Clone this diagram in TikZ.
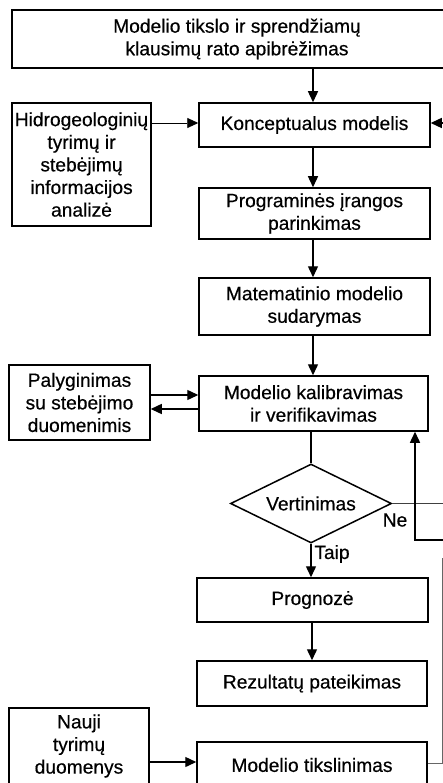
\documentclass[tikz,border=0pt]{standalone}
\usepackage{fontspec}
\setmainfont{Liberation Sans}
\newfontfamily\diafont{Liberation Sans}[FakeBold=0.45]
\usetikzlibrary{arrows.meta,shapes.geometric}
\begin{document}
\begin{tikzpicture}[x=1pt,y=-1pt,
  box/.style={draw, line width=1.5pt, align=center, inner sep=0pt,
    font=\diafont\fontsize{19.2}{22.6}\selectfont},
  lab/.style={inner sep=0pt, font=\diafont\fontsize{19.2}{22.6}\selectfont},
  conn/.style={line width=1.4pt},
  arr/.style={line width=1.4pt, -{Triangle[length=11pt,width=10pt]}},
  thin/.style={line width=0.9pt, -{Triangle[length=11pt,width=10pt]}}]
\useasboundingbox (0,0) rectangle (443,783);
\clip (0,0) rectangle (443,783);
\fill[white] (0,0) rectangle (443,783);
% boxes
\node[box, minimum width=450pt, minimum height=58pt] (top) at (237,39)
  {Modelio tikslo ir sprendžiamų\\klausimų rato apibrėžimas};
\node[box, minimum width=231pt, minimum height=44pt] (kon) at (314.5,125)
  {Konceptualus modelis};
\node[box, minimum width=139pt, minimum height=123pt] (hid) at (81.5,164.5)
  {Hidrogeologinių\\tyrimų ir\\stebėjimų\\informacijos\\analizė};
\node[box, minimum width=231pt, minimum height=51pt] (prg) at (314.5,213.5)
  {Programinės įrangos\\parinkimas};
\node[box, minimum width=231pt, minimum height=57pt] (mat) at (314.5,306.5)
  {Matematinio modelio\\sudarymas};
\node[box, minimum width=229pt, minimum height=55pt] (kal) at (313.5,403.5)
  {Modelio kalibravimas\\ir verifikavimas};
\node[box, minimum width=141pt, minimum height=75pt] (pal) at (79.5,402.5)
  {Palyginimas\\su stebėjimo\\duomenimis};
\node[box, diamond, aspect=2, minimum width=161pt, minimum height=79pt] (dia) at (311,503.5)
  {Vertinimas};
\node[box, minimum width=231pt, minimum height=44pt] (pro) at (312.5,600)
  {Prognozė};
\node[box, minimum width=230pt, minimum height=45pt] (rez) at (312,683.5)
  {Rezultatų pateikimas};
\node[box, minimum width=140pt, minimum height=76pt] (nau) at (79,746)
  {Nauji\\tyrimų\\duomenys};
\node[box, minimum width=230pt, minimum height=46pt] (tik) at (312,765)
  {Modelio tikslinimas};
% labels
\node[lab] (ne) at (395,520) {Ne};
\node[lab] (taip) at (332,554) {Taip};
% main flow
\draw[arr] (top.south -| 313,0) -- (kon.north -| 313,0);
\draw[arr] (kon.south -| 313,0) -- (prg.north -| 313,0);
\draw[arr] (prg.south -| 313,0) -- (mat.north -| 313,0);
\draw[arr] (mat.south -| 313,0) -- (kal.north -| 313,0);
\draw[conn] (kal.south -| 311,0) -- (dia.north);
\draw[arr] (dia.south) -- (pro.north -| 311,0);
\draw[arr] (pro.south -| 312,0) -- (rez.north -| 312,0);
% side inputs
\draw[thin] (hid.east |- 0,123) -- (kon.west |- 0,123);
\draw[arr] (pal.east |- 0,395) -- (kal.west |- 0,395);
\draw[arr] (kal.west |- 0,409) -- (pal.east |- 0,409);
\draw[arr] (nau.east |- 0,762) -- (tik.west |- 0,762);
% feedback loops
\coordinate (neEnd) at (446,503.5);
\draw[line width=1pt, black!75] (dia.east) -- (neEnd);
\coordinate (loopIn) at (446,540);
\coordinate (loopCorner) at (415,540);
\draw[arr] (loopIn) -- (loopCorner) -- (kal.south -| loopCorner);
\coordinate (kinEnd) at (446,123);
\draw[arr] (kinEnd) -- (kon.east |- kinEnd);
\coordinate (tikCorner) at (442,763);
\coordinate (tikUp) at (442,558);
\draw[line width=1pt, black!60] (tik.east |- tikCorner) -- (tikCorner) -- (tikUp);
\end{tikzpicture}
\end{document}
